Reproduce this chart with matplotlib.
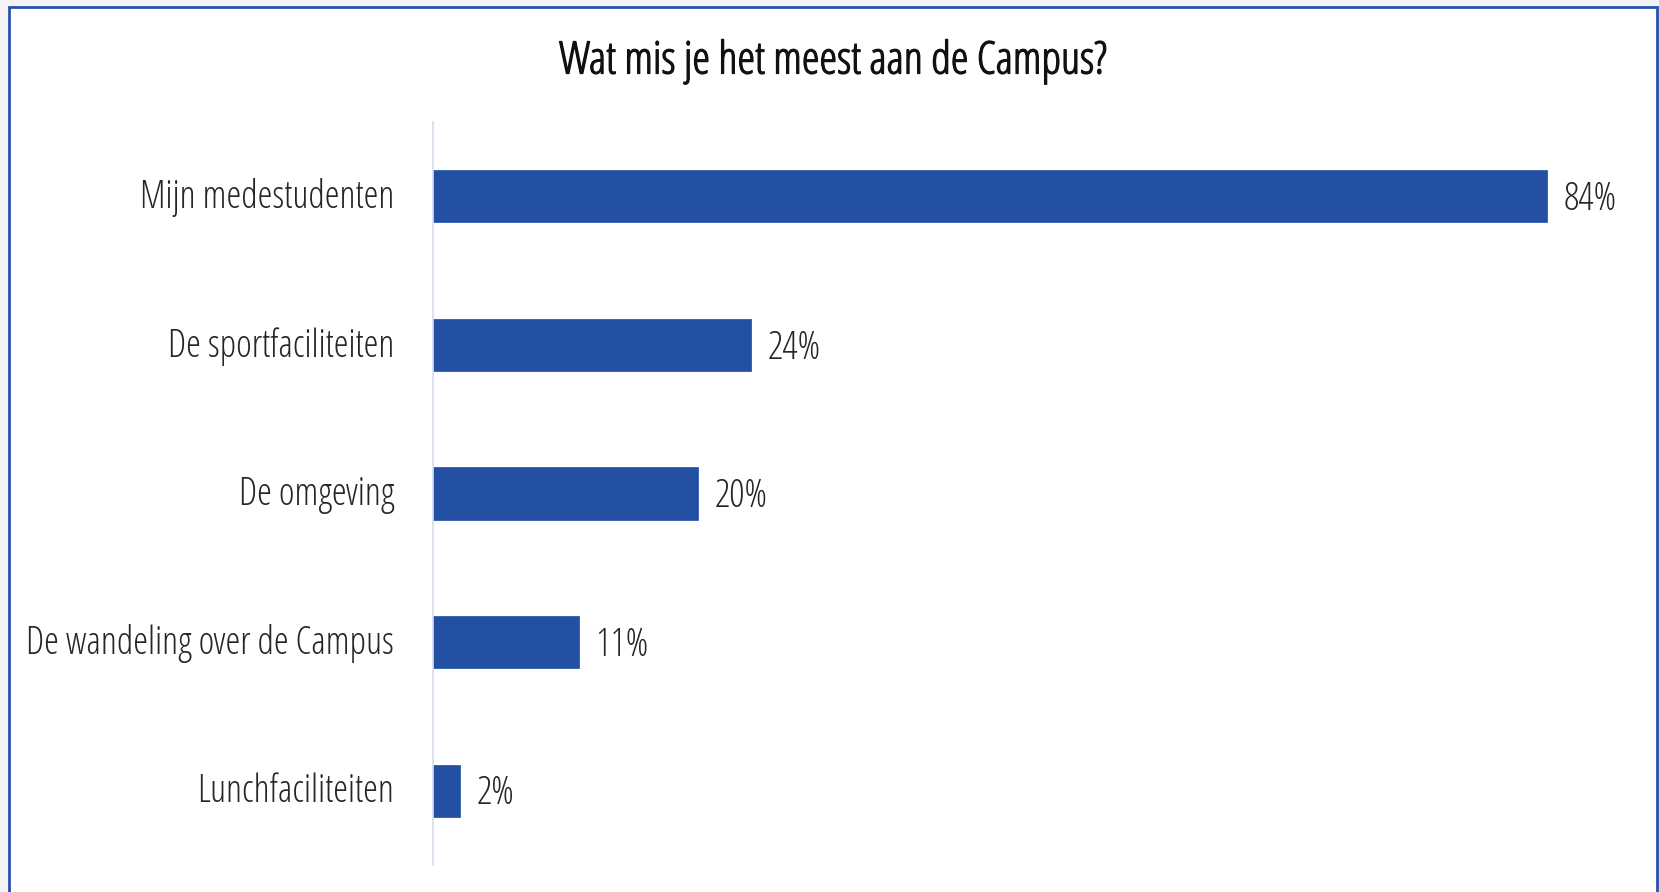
import matplotlib
matplotlib.use("Agg")
import matplotlib.pyplot as plt
from matplotlib import font_manager as fm
from matplotlib.patches import Rectangle
import matplotlib.patheffects as pe

categories = ["Mijn medestudenten", "De sportfaciliteiten", "De omgeving",
              "De wandeling over de Campus", "Lunchfaciliteiten"]
values = [84, 24, 20, 11, 2]
value_labels = ["84%", "24%", "20%", "11%", "2%"]
title = "Wat mis je het meest aan de Campus?"

# --- font selection: prefer a condensed face ---
def wnum(f):
    w = f.weight
    if isinstance(w, str):
        w = {"ultralight": 200, "light": 300, "normal": 400, "regular": 400,
             "book": 400, "medium": 500, "semibold": 600, "demibold": 600,
             "bold": 700, "heavy": 800, "black": 900}.get(w.lower(), 400)
    return w

def find_font(target):
    entries = fm.fontManager.ttflist
    def is_cond(f):
        s = str(f.stretch).lower()
        return ("condensed" in s or "condensed" in f.name.lower()
                or "condensed" in f.fname.lower() or "narrow" in f.name.lower())
    for fam in ["Open Sans", "Roboto", "Noto Sans", "Liberation Sans"]:
        cands = [f for f in entries if fam.lower() in f.name.lower() and is_cond(f)
                 and f.style == "normal"]
        if cands:
            cands.sort(key=lambda f: abs(wnum(f) - target))
            return fm.FontProperties(fname=cands[0].fname)
    return fm.FontProperties(family="Liberation Sans Narrow")

fp_light = find_font(300)
fp_title = find_font(400)

W, H = 1659, 892
fig = plt.figure(figsize=(W / 100, H / 100), dpi=100)
fig.patch.set_facecolor("#f3f3f3")
frame = Rectangle((9 / W, -0.05), (1657 - 9) / W, (H - 7) / H + 0.05,
                  transform=fig.transFigure, facecolor="white",
                  edgecolor="#2a51ad", linewidth=2, zorder=-10)
fig.add_artist(frame)

left, right = 433 / W, 1627 / W
bottom, top = 1 - 865 / H, 1 - 122 / H
ax = fig.add_axes([left, bottom, right - left, top - bottom])
ax.set_facecolor("none")

ypos = list(range(len(categories)))
ax.barh(ypos, values, height=0.35, color="#2450a3", edgecolor="#2f5bb0", linewidth=0.6)
ax.set_xlim(0, 90)
ax.set_ylim(len(categories) - 0.5, -0.5)

for s in ["top", "right", "bottom"]:
    ax.spines[s].set_visible(False)
ax.spines["left"].set_color("#d5ddef")
ax.spines["left"].set_linewidth(1.2)
ax.set_xticks([])
ax.set_yticks(ypos)
ax.set_yticklabels([])
ax.tick_params(axis="y", length=0)

for y, c in zip(ypos, categories):
    ax.annotate(c, xy=(0, y), xycoords=("axes fraction", "data"),
                xytext=(-28, -1), textcoords="offset points",
                ha="right", va="center", fontproperties=fp_light, fontsize=27,
                color="#262626")

for y, v, t in zip(ypos, values, value_labels):
    ax.annotate(t, xy=(v, y), xytext=(12, -2.5), textcoords="offset points",
                ha="left", va="center", fontproperties=fp_light, fontsize=27.5,
                color="#262626")

fig.text(833 / W, 1 - 62 / H, title, ha="center", va="center",
         fontproperties=fp_title, fontsize=32.3, color="#111111",
         path_effects=[pe.withStroke(linewidth=0.9, foreground="#111111")])

fig.savefig("out.png", dpi=100, facecolor=fig.get_facecolor())
